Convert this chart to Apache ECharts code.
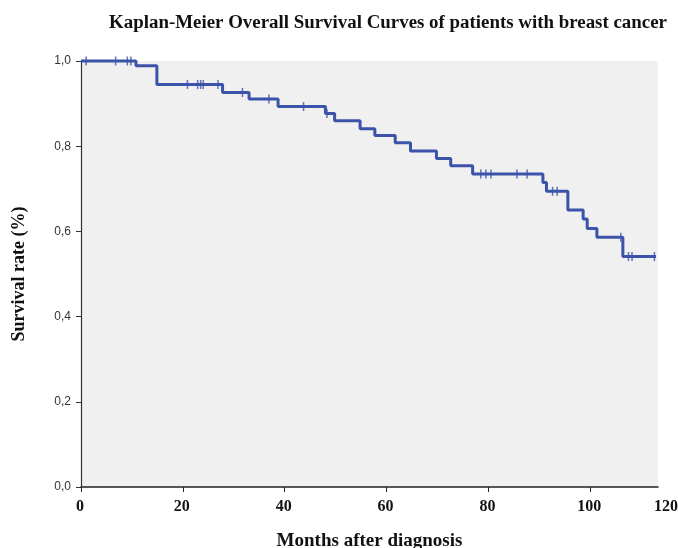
<!DOCTYPE html>
<html>
<head>
<meta charset="utf-8">
<script src="https://cdn.jsdelivr.net/npm/echarts@6/dist/echarts.min.js"></script>
<style>
html,body{margin:0;padding:0;background:#fff;}
#chart{width:678px;height:548px;}
</style>
</head>
<body>
<div id="chart"></div>
<script>
// Kaplan-Meier step points (months, survival)
var stepTimes = [0, 10.8, 14.9, 27.8, 33.0, 38.7, 48.0, 49.8, 54.8, 57.7, 61.7, 64.7, 69.8, 72.6, 76.9, 90.7, 91.4, 95.6, 98.6, 99.4, 101.3, 106.4, 112.9];
var stepSurvival = [1.0, 0.989, 0.945, 0.926, 0.911, 0.893, 0.877, 0.860, 0.841, 0.825, 0.808, 0.789, 0.771, 0.754, 0.735, 0.715, 0.694, 0.650, 0.629, 0.607, 0.586, 0.541, 0.541];
// censored observations
var censorTimes = [1.0, 6.8, 9.1, 9.8, 20.9, 22.9, 23.5, 24.0, 26.9, 31.7, 36.9, 43.7, 48.3, 78.5, 79.5, 80.5, 85.6, 87.6, 92.6, 93.5, 106.0, 107.5, 108.2, 112.6];
var censorSurvival = [1.0, 1.0, 1.0, 1.0, 0.945, 0.945, 0.945, 0.945, 0.945, 0.926, 0.911, 0.893, 0.877, 0.735, 0.735, 0.735, 0.735, 0.735, 0.694, 0.694, 0.586, 0.541, 0.541, 0.541];
// axis ticks
var xTickValues = [0, 20, 40, 60, 80, 100];
var xMax = 113.3;
var xTickLabels = ['0', '20', '40', '60', '80', '100', '120'];
var yTickLabels = ['0,0', '0,2', '0,4', '0,6', '0,8', '1,0'];

var lineData = stepTimes.map(function (t, i) { return [t, stepSurvival[i]]; });
var censorData = censorTimes.map(function (t, i) { return [t, censorSurvival[i]]; });
var blue = '#3b53a8';
var serif = '"Liberation Serif", "DejaVu Serif", serif';

var chart = echarts.init(document.getElementById('chart'), null, {renderer: 'canvas'});
chart.setOption({
  animation: false,
  title: {
    text: 'Kaplan-Meier Overall Survival Curves of patients with breast cancer',
    left: 383, top: 9, textAlign: 'center',
    textStyle: {fontFamily: serif, fontWeight: 'bold', fontSize: 18.9, color: '#111'}
  },
  grid: {left: 81, right: 20, top: 61, bottom: 61, show: true, backgroundColor: '#f0f0f0', borderWidth: 0, outerBoundsMode: 'none', containLabel: false},
  xAxis: {
    type: 'value', min: 0, max: xMax,
    name: 'Months after diagnosis', nameLocation: 'middle', nameGap: 45,
    nameTextStyle: {fontFamily: serif, fontWeight: 'bold', fontSize: 19, color: '#111'},
    splitLine: {show: false},
    axisLine: {lineStyle: {color: '#222', width: 1.5}},
    axisTick: {show: true, length: 5, lineStyle: {color: '#222'}, customValues: xTickValues},
    axisLabel: {
      customValues: xTickValues.concat([xMax]),
      margin: 12,
      fontFamily: serif, fontWeight: 'bold', fontSize: 16, color: '#111',
      formatter: function (v) {
        if (v === xMax) return '{r|' + xTickLabels[xTickLabels.length - 1] + '}';
        return '{n|' + xTickLabels[Math.round(v / 20)] + '}';
      },
      rich: {
        r: {fontFamily: serif, fontWeight: 'bold', fontSize: 16, color: '#111', padding: [0, 0, 0, 16]},
        n: {fontFamily: serif, fontWeight: 'bold', fontSize: 16, color: '#111', padding: [0, 2, 0, 0]}
      }
    }
  },
  yAxis: {
    type: 'value', min: 0, max: 1, interval: 0.2,
    name: 'Survival rate (%)', nameLocation: 'middle', nameGap: 53,
    nameTextStyle: {fontFamily: serif, fontWeight: 'bold', fontSize: 18, color: '#111'},
    splitLine: {show: false},
    axisLine: {show: true, lineStyle: {color: '#333', width: 1.2}},
    axisTick: {show: true, length: 5, lineStyle: {color: '#333'}},
    axisLabel: {
      margin: 10, fontFamily: '"Liberation Sans", Arial, sans-serif', fontSize: 12, color: '#333',
      formatter: function (v) { return yTickLabels[Math.round(v / 0.2)]; }
    }
  },
  series: [
    {
      type: 'line', step: 'end', data: lineData, showSymbol: false, symbol: 'none',
      lineStyle: {color: blue, width: 3}, clip: false
    },
    {
      type: 'scatter', data: censorData, symbol: 'rect', symbolSize: [1.5, 9],
      itemStyle: {color: blue}, clip: false
    }
  ]
});
</script>
</body>
</html>
